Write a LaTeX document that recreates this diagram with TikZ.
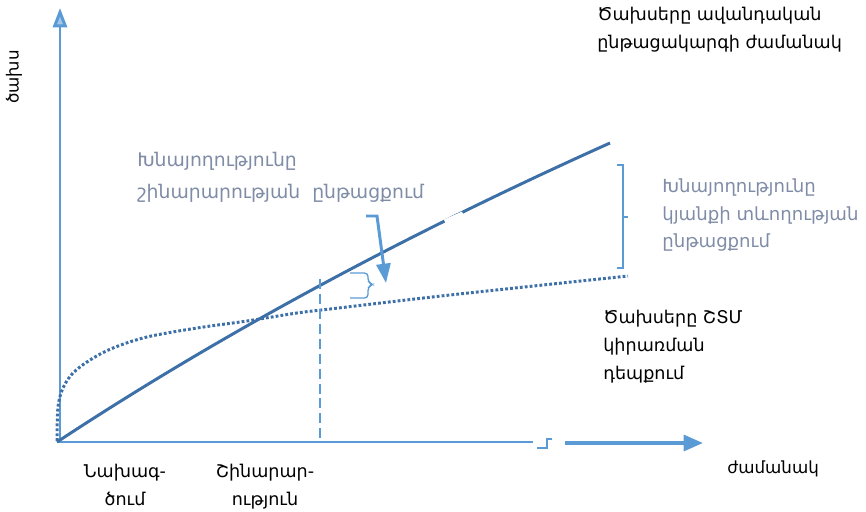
\documentclass[tikz,border=0pt]{standalone}
\usepackage{fontspec}
\setmainfont{DejaVu Sans}
\usepackage{tikz}
\usetikzlibrary{arrows.meta,positioning,calc}
\definecolor{axisblue}{HTML}{5B9BD5}
\definecolor{curveblue}{HTML}{3E70A8}
\definecolor{notegray}{HTML}{7F8CA6}
\newcommand{\notesize}[1]{\fontsize{#1}{15.9}\selectfont}
\tikzset{
  yaxis/.style={
    draw=axisblue,
    line width=1.7pt,
    -{Triangle[length=11pt,width=8pt,fill=axisblue!55]}
  },
  xaxis/.style={
    draw=axisblue,
    line width=0.85pt
  },
  timearrow/.style={
    draw=axisblue,
    line width=2pt,
    -{Triangle[length=11pt,width=9pt]}
  },
  costline/.style={
    draw=curveblue,
    line width=1.7pt
  },
  stmline/.style={
    draw=curveblue,
    line width=1.7pt,
    dash pattern=on 1.6pt off 1.2pt
  },
  phaseline/.style={
    draw=axisblue,
    line width=0.85pt,
    dash pattern=on 5.7pt off 2.8pt
  },
  bracket/.style={
    draw=axisblue,
    line width=0.75pt
  },
  savearrow/.style={
    draw=axisblue,
    line width=1.7pt,
    -{Triangle[length=11pt,width=8pt]}
  },
  darknote/.style={
    anchor=north west,
    inner sep=0pt,
    align=left,
    text=black,
    font=\notesize{10}
  },
  savenote/.style={
    darknote,
    text=notegray
  },
  phasenote/.style={
    darknote,
    anchor=north,
    align=center
  }
}

\begin{document}
\begin{tikzpicture}[x=0.02cm,y=-0.02cm]
\useasboundingbox (0,0) rectangle (866,511);
% axes
\coordinate (origin) at (57,442);
\coordinate (ybase) at (60,442);
\coordinate (ytip) at (60,8);
\coordinate (xend) at (533,442);
\coordinate (breakA) at (537,448);
\coordinate (breakB) at (547,448);
\coordinate (breakC) at (547,439);
\coordinate (breakD) at (552,439);
\coordinate (xstart) at (565,443);
\coordinate (xtip) at (703,443);
\draw[yaxis] (ybase) -- (ytip);
\draw[xaxis] (origin) -- (xend);
\draw[xaxis] (breakA) -- (breakB) -- (breakC) -- (breakD);
\draw[timearrow] (xstart) -- (xtip);
% cost curves
\coordinate (tradend) at (610,143);
\draw[costline] (origin) .. controls (221,334) and (405,235) .. (tradend);
\draw[white,line width=3pt] (445,222) -- (463,214);
\draw[stmline] plot[smooth,tension=0.55] coordinates {
  (57,441) (58,407) (63,388) (73,373) (90,360) (113,348) (147,337)
  (197,328) (247,321) (297,313) (330,309) (450,295) (628,276)};
% end of construction
\coordinate (buildtop) at (320,279);
\coordinate (buildbot) at (320,442);
\draw[phaseline] (buildtop) -- (buildbot);
% saving during construction
\draw[bracket,rounded corners=2pt] (350,273) -- (368,273) -- (368,282)
  -- (373,284.5) -- (368,287) -- (368,298) -- (350,298);
\coordinate (arrowtail) at (366,216);
\coordinate (arrowknee) at (377,216);
\coordinate (arrowtip) at (386,283);
\draw[savearrow] (arrowtail) -- (arrowknee) -- (arrowtip);
% saving during lifetime
\draw[bracket] (617,165) -- (623,165) -- (623,268) -- (617,268);
\draw[bracket] (623,217) -- (628,217);
% labels
\node[darknote, font=\notesize{9.5}, rotate=90, anchor=center] (costlabel) at (14,77) {ծախս};
\node[darknote, font=\notesize{9.5}] (timelabel) at (727,460) {ժամանակ};
\node[darknote] (tradnote) at (597,7) {Ծախսերը ավանդական\\ընթացակարգի ժամանակ};
\node[savenote, font=\fontsize{10.7}{18.2}\selectfont] (buildnote) at (137,152)
  {Խնայողությունը\\շինարարության~ ընթացքում};
\node[savenote, font=\notesize{10.3}] (lifenote) at (662,178) {Խնայողությունը\\կյանքի տևողության\\ընթացքում};
\node[darknote] (stmnote) at (603,310) {Ծախսերը ՇՏՄ\\կիրառման\\դեպքում};
\node[phasenote] (designnote) at (125,464) {Նախագ-\\ծում};
\node[phasenote] (buildphase) at (265,464) {Շինարար-\\ություն};
\end{tikzpicture}
\end{document}
